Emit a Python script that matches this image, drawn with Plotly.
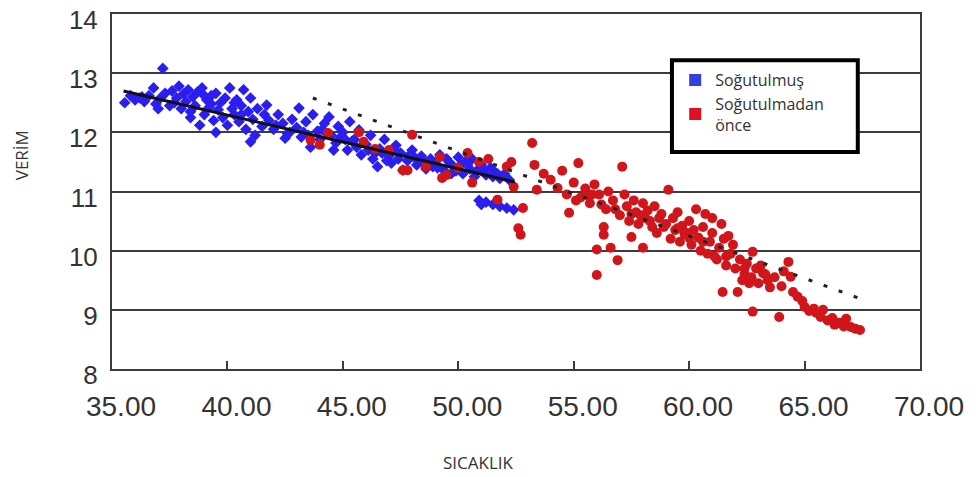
import plotly.graph_objects as go

# ---- data ----
cooled_x = [35.55, 35.8, 36.0, 36.2, 36.4, 36.6, 36.8, 36.9, 37.1, 37.2, 37.3, 37.5, 37.6, 37.8, 37.9,
            38.0, 38.1, 38.2, 38.3, 38.4, 38.5, 38.6, 38.7, 38.8, 38.9, 39.0, 39.1, 39.2, 39.3, 39.4,
            39.5, 39.5, 39.6, 39.7, 39.8, 39.9, 40.0, 40.1, 40.2, 40.3, 40.4, 40.5, 40.6, 40.7, 40.8,
            40.9, 41.0, 41.0, 41.1, 41.2, 41.3, 41.5, 41.7, 41.8, 42.0, 42.2, 42.4, 42.6, 42.8, 43.0,
            43.1, 43.2, 43.4, 43.6, 43.7, 43.9, 44.0, 44.2, 44.4, 44.5, 44.7, 44.8, 45.0, 45.2, 45.3,
            45.5, 45.7, 45.8, 46.0, 46.2, 46.3, 46.5, 46.6, 46.8, 47.0, 47.1, 47.3, 47.5, 47.6, 47.8,
            48.0, 48.2, 48.4, 48.6, 48.8, 49.0, 49.2, 49.4, 49.6, 49.8, 50.0, 50.2, 50.4, 50.6, 50.8,
            51.0, 51.2, 51.4, 51.6, 51.8, 52.0, 52.2, 50.9, 51.2, 51.5, 51.8, 52.1, 52.4, 51.0,
            37.0, 38.4, 39.0, 40.3, 41.6, 42.5, 43.3, 44.6, 45.6, 46.9, 48.3, 49.7, 50.7,
            42.1, 42.7, 43.5, 44.1, 44.9, 45.4, 46.1, 46.7, 47.2, 47.9, 48.5, 49.1, 49.5, 50.1, 50.5,
            51.1, 51.7, 44.3, 45.1, 46.4, 47.4, 48.1, 48.9, 49.9, 50.3, 51.5, 36.3, 37.7, 39.3, 40.6]
cooled_y = [12.50, 12.62, 12.55, 12.58, 12.52, 12.62, 12.75, 12.48, 12.58, 13.08, 12.66, 12.45, 12.70, 12.58, 12.78,
            12.40, 12.65, 12.52, 12.72, 12.35, 12.60, 12.45, 12.68, 12.12, 12.75, 12.30, 12.55, 12.42, 12.62, 12.20,
            12.66, 12.00, 12.38, 12.50, 12.25, 12.58, 12.12, 12.75, 12.40, 12.30, 12.55, 12.18, 12.45, 12.72, 12.05,
            12.35, 11.84, 12.58, 12.22, 11.95, 12.40, 12.10, 12.46, 12.20, 12.05, 12.30, 12.15, 11.98, 12.22, 12.08,
            12.41, 11.92, 12.18, 11.75, 12.30, 12.02, 11.88, 12.15, 12.26, 11.95, 11.82, 12.10, 12.00, 11.70, 12.18,
            11.88, 12.04, 11.62, 11.80, 11.95, 11.55, 11.42, 11.72, 11.88, 11.60, 11.48, 11.78, 11.65, 11.36, 11.52,
            11.70, 11.45, 11.60, 11.38, 11.55, 11.48, 11.62, 11.35, 11.50, 11.42, 11.58, 11.30, 11.45, 11.55, 11.35,
            11.45, 11.28, 11.40, 11.32, 11.22, 11.30, 11.20, 10.85, 10.82, 10.78, 10.75, 10.72, 10.69, 10.78,
            12.40, 12.25, 12.62, 12.50, 12.30, 11.90, 12.00, 11.70, 11.75, 11.52, 11.50, 11.30, 11.25,
            12.12, 12.00, 11.95, 12.05, 11.92, 11.85, 11.70, 11.65, 11.72, 11.62, 11.52, 11.40, 11.55, 11.45, 11.38,
            11.36, 11.30, 11.98, 11.88, 11.65, 11.55, 11.58, 11.42, 11.35, 11.50, 11.25, 12.60, 12.50, 12.48, 12.30]

precool_x = [43.6, 44.0, 44.35, 45.7, 45.9, 46.4, 47.0, 47.6, 47.8, 48.0, 48.6, 49.2, 49.3, 49.5, 50.0,
             50.4, 50.6, 50.9, 51.3, 51.7, 52.1, 52.3, 52.4, 52.6, 52.7, 52.8, 53.2, 53.3, 53.4, 53.7,
             54.0, 54.3, 54.5, 54.7, 54.8, 55.0, 55.2, 55.3, 55.5, 55.7, 55.9, 56.0, 56.0, 56.1, 56.3,
             56.3, 56.4, 56.5, 56.6, 56.7, 56.9, 57.0, 57.1, 57.2, 57.3, 57.4, 57.5, 57.6, 57.7, 57.8,
             58.0, 58.0, 58.1, 58.2, 58.4, 58.5, 58.6, 58.7, 58.8, 59.0, 59.1, 59.2, 59.3, 59.4, 59.5,
             59.6, 59.7, 59.8, 60.0, 60.1, 60.2, 60.3, 60.4, 60.5, 60.6, 60.7, 60.8, 60.9, 61.0, 61.0,
             61.2, 61.3, 61.4, 61.45, 61.5, 61.6, 61.7, 61.8, 61.9, 62.0, 62.1, 62.2, 62.3, 62.4, 62.5,
             62.6, 62.7, 62.75, 62.75, 62.9, 63.0, 63.1, 63.2, 63.4, 63.5, 63.7, 63.9, 64.0, 64.1, 64.3,
             64.4, 64.5, 64.7, 64.9, 65.0, 65.2, 65.4, 65.5, 65.7, 65.8, 66.0, 66.2, 66.3, 66.5, 66.7,
             66.8, 67.0, 67.2, 67.4, 55.6, 56.8, 57.9, 58.9, 59.9, 60.6, 61.1,
             55.1, 55.8, 56.2, 57.5, 58.3, 59.5, 60.0, 61.6, 62.4, 63.3]
precool_y = [11.87, 11.79, 11.99, 12.00, 11.84, 11.72, 11.70, 11.36, 11.36, 11.96, 11.42, 11.58, 11.23, 11.28, 11.40,
             11.65, 11.15, 11.50, 11.55, 10.86, 11.42, 11.50, 11.08, 10.38, 10.27, 10.72, 11.82, 11.45, 11.03, 11.30,
             11.20, 11.06, 11.35, 10.95, 10.64, 11.15, 11.48, 10.90, 11.05, 10.80, 11.12, 10.02, 9.59, 10.95, 10.40,
             10.27, 10.70, 11.00, 10.05, 10.85, 9.84, 10.60, 11.42, 10.95, 10.75, 10.50, 10.23, 10.85, 10.65, 10.45,
             10.05, 10.80, 10.55, 10.68, 10.40, 10.75, 10.30, 10.55, 10.62, 10.45, 11.03, 10.20, 10.55, 10.35, 10.65,
             10.15, 10.42, 10.28, 10.50, 10.10, 10.35, 10.70, 10.22, 10.00, 10.40, 10.62, 9.95, 10.15, 10.30, 10.55,
             9.85, 10.05, 10.45, 9.30, 10.20, 9.75, 10.25, 9.95, 10.10, 9.70, 9.30, 9.85, 9.50, 9.60, 9.78,
             9.45, 9.55, 9.98, 8.97, 9.70, 9.45, 9.75, 9.62, 9.50, 9.38, 9.55, 8.88, 9.40, 9.65, 9.81,
             9.56, 9.30, 9.22, 9.15, 9.05, 8.98, 9.02, 8.95, 8.88, 9.00, 8.82, 8.86, 8.75, 8.78, 8.72,
             8.85, 8.71, 8.68, 8.66, 10.95, 10.70, 10.60, 10.40, 10.30, 10.15, 9.90,
             10.85, 10.95, 10.78, 10.62, 10.50, 10.38, 10.22, 9.90, 9.70, 9.60]

fit_cooled_x = [35.5, 52.45]
fit_cooled_y = [12.70, 11.16]
fit_precool_x = [43.7, 67.4]
fit_precool_y = [12.58, 9.19]

x_ticks = [35, 40, 45, 50, 55, 60, 65, 70]
y_ticks = [8, 9, 10, 11, 12, 13, 14]

BLUE = "#2b1ef0"
RED = "#d0161b"
GRID = "#3c3c3c"
TXT = "#333333"

fig = go.Figure()
fig.add_trace(go.Scatter(x=cooled_x, y=cooled_y, mode="markers", showlegend=False,
                         marker=dict(symbol="diamond", size=9, color=BLUE)))
fig.add_trace(go.Scatter(x=precool_x, y=precool_y, mode="markers", showlegend=False,
                         marker=dict(symbol="circle", size=10, color=RED)))
fig.add_trace(go.Scatter(x=fit_cooled_x, y=fit_cooled_y, mode="lines", showlegend=False,
                         line=dict(color="#111111", width=3)))
fig.add_trace(go.Scatter(x=fit_precool_x, y=fit_precool_y, mode="lines", showlegend=False,
                         line=dict(color="#222222", width=3, dash="4px,12px")))
# legend entries
fig.add_trace(go.Scatter(x=[None], y=[None], mode="markers", name="Soğutulmuş",
                         marker=dict(symbol="square", size=7, color="#3340dd")))
fig.add_trace(go.Scatter(x=[None], y=[None], mode="markers", name="Soğutulmadan<br>önce",
                         marker=dict(symbol="square", size=7, color="#e01020")))

fig.update_layout(
    width=976, height=477,
    margin=dict(l=104, r=64, t=6, b=116),
    paper_bgcolor="white", plot_bgcolor="white",
    showlegend=True,
    legend=dict(x=0.697, y=0.862, xanchor="left", yanchor="top",
                bgcolor="rgba(0,0,0,0)", borderwidth=0,
                font=dict(family="Open Sans", size=16, color=TXT),
                tracegroupgap=5, itemsizing="constant"),
    shapes=[dict(type="rect", xref="paper", yref="paper",
                 x0=0.693, x1=0.923, y0=0.611, y1=0.870,
                 line=dict(color="black", width=4), fillcolor="white", layer="above")],
    annotations=[
        dict(text="VERİM", xref="paper", yref="paper", x=-0.111, y=0.603,
             xanchor="center", yanchor="middle",
             showarrow=False, textangle=-90, font=dict(family="Open Sans", size=17, color=TXT)),
        dict(text="SICAKLIK", xref="paper", yref="paper", x=0.454, y=-0.262,
             xanchor="center", yanchor="middle",
             showarrow=False, font=dict(family="Open Sans", size=17, color=TXT)),
    ],
)
fig.update_xaxes(range=[35, 70], tickvals=x_ticks, tickformat=".2f", automargin=False,
                 showgrid=False, zeroline=False,
                 showline=True, linecolor=GRID, linewidth=2, mirror=True,
                 ticks="inside", ticklen=8, tickwidth=2, tickcolor=GRID,
                 tickfont=dict(family="Liberation Sans", size=28, color=TXT),
                 ticklabelshift=9, ticklabelstandoff=11, ticklabeloverflow="allow")
fig.update_yaxes(range=[8, 14], tickvals=y_ticks, automargin=False,
                 showgrid=True, gridcolor=GRID, gridwidth=2, zeroline=False,
                 showline=True, linecolor=GRID, linewidth=2, mirror=True,
                 ticks="", tickfont=dict(family="Liberation Sans", size=26, color=TXT),
                 ticklabelstandoff=7, ticklabelshift=6, ticklabeloverflow="allow")

fig.write_html("out.html")
